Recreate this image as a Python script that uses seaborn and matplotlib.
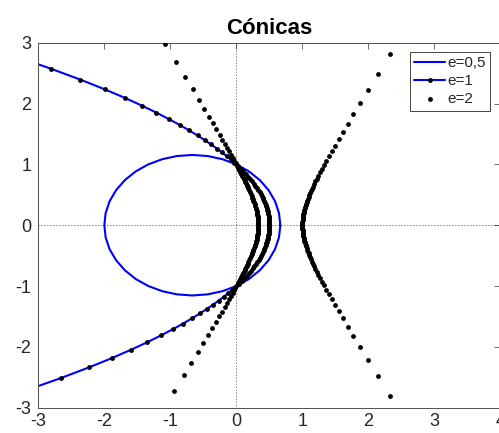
import matplotlib
matplotlib.use("Agg")
import matplotlib.pyplot as plt
import seaborn as sns

# e = 0.5 : ellipse (closed curve, drawn as a plain line)
ellipse_x = [0.667, 0.646, 0.586, 0.488, 0.355, 0.190, 0.000, -0.211, -0.435, -0.667,
             -0.898, -1.123, -1.333, -1.524, -1.688, -1.821, -1.920, -1.980, -2.000,
             -1.980, -1.920, -1.821, -1.688, -1.524, -1.333, -1.123, -0.898, -0.667,
             -0.435, -0.211, 0.000, 0.190, 0.355, 0.488, 0.586, 0.646, 0.667]
ellipse_y = [0.000, 0.201, 0.395, 0.577, 0.742, 0.885, 1.000, 1.085, 1.137, 1.155,
             1.137, 1.085, 1.000, 0.885, 0.742, 0.577, 0.395, 0.201, 0.000,
             -0.201, -0.395, -0.577, -0.742, -0.885, -1.000, -1.085, -1.137, -1.155,
             -1.137, -1.085, -1.000, -0.885, -0.742, -0.577, -0.395, -0.201, 0.000]

# e = 1 : parabola, line with a dot on every sample
parabola_x = [-3.156, -2.649, -2.233, -1.887, -1.597, -1.352, -1.142, -0.962, -0.805, -0.669,
              -0.549, -0.444, -0.350, -0.267, -0.193, -0.126, -0.066, -0.013, 0.036, 0.080,
              0.121, 0.157, 0.191, 0.221, 0.249, 0.274, 0.298, 0.319, 0.339, 0.357,
              0.373, 0.388, 0.402, 0.415, 0.426, 0.437, 0.446, 0.455, 0.463, 0.470,
              0.476, 0.481, 0.486, 0.490, 0.493, 0.496, 0.498, 0.499, 0.500,
              0.500, 0.500, 0.499, 0.497, 0.495, 0.492, 0.489, 0.484, 0.479, 0.474,
              0.467, 0.460, 0.452, 0.443, 0.433, 0.423, 0.411, 0.398, 0.383, 0.368,
              0.351, 0.332, 0.312, 0.290, 0.266, 0.240, 0.211, 0.180, 0.145, 0.108,
              0.066, 0.020, -0.030, -0.086, -0.148, -0.217, -0.294, -0.381, -0.478, -0.588,
              -0.713, -0.856, -1.020, -1.211, -1.430, -1.690, -1.997, -2.364, -2.808, -3.352]
parabola_y = [-2.704, -2.509, -2.338, -2.185, -2.048, -1.925, -1.812, -1.710, -1.616, -1.529,
              -1.449, -1.374, -1.304, -1.239, -1.177, -1.119, -1.064, -1.012, -0.963, -0.916,
              -0.871, -0.828, -0.787, -0.747, -0.709, -0.672, -0.636, -0.602, -0.568, -0.535,
              -0.504, -0.473, -0.442, -0.413, -0.384, -0.355, -0.328, -0.300, -0.273, -0.246,
              -0.220, -0.194, -0.168, -0.143, -0.117, -0.092, -0.067, -0.042, -0.017,
              0.000, 0.025, 0.050, 0.075, 0.100, 0.126, 0.151, 0.177, 0.203, 0.229,
              0.255, 0.282, 0.309, 0.337, 0.365, 0.394, 0.423, 0.453, 0.483, 0.514,
              0.546, 0.579, 0.613, 0.648, 0.684, 0.721, 0.760, 0.800, 0.842, 0.886,
              0.932, 0.979, 1.030, 1.083, 1.138, 1.197, 1.260, 1.327, 1.398, 1.475,
              1.557, 1.647, 1.743, 1.850, 1.965, 2.093, 2.235, 2.393, 2.572, 2.776]

# e = 2 : hyperbola, dots only -- branch through (0, +-1)
hyper_left_x = [0.333, 0.333, 0.333, 0.332, 0.330, 0.328, 0.326, 0.323, 0.320, 0.316,
                0.311, 0.306, 0.300, 0.294, 0.286, 0.277, 0.267,
                0.260, 0.252, 0.243, 0.233, 0.222, 0.210, 0.197, 0.182,
                0.174, 0.166, 0.157, 0.148, 0.137, 0.127, 0.116, 0.103, 0.091, 0.077,
                0.062, 0.046, 0.029, 0.011, -0.009, -0.031, -0.055, -0.080, -0.108, -0.139,
                -0.174, -0.212, -0.254, -0.301, -0.355, -0.416, -0.487, -0.568, -0.664, -0.777,
                -0.915, -1.084,
                0.333, 0.333, 0.332, 0.330, 0.328, 0.326, 0.323, 0.320, 0.316,
                0.311, 0.306, 0.300, 0.294, 0.286, 0.277, 0.267,
                0.260, 0.252, 0.243, 0.233, 0.222, 0.210, 0.197, 0.182,
                0.173, 0.164, 0.155, 0.146, 0.136, 0.125, 0.114, 0.101, 0.088, 0.074,
                0.060, 0.043, 0.026, 0.008, -0.013, -0.035, -0.058, -0.085, -0.113, -0.145,
                -0.179, -0.218, -0.261, -0.310, -0.364, -0.427, -0.499, -0.582, -0.681, -0.798,
                -0.939]
hyper_left_y = [0.000, 0.020, 0.040, 0.060, 0.081, 0.102, 0.123, 0.144, 0.166, 0.189,
                0.213, 0.238, 0.263, 0.290, 0.319, 0.349, 0.382,
                0.404, 0.429, 0.454, 0.481, 0.510, 0.540, 0.573, 0.609,
                0.628, 0.647, 0.668, 0.689, 0.712, 0.735, 0.760, 0.786, 0.814, 0.843,
                0.874, 0.907, 0.942, 0.979, 1.019, 1.062, 1.108, 1.158, 1.212, 1.271,
                1.336, 1.407, 1.486, 1.574, 1.673, 1.785, 1.912, 2.059, 2.231, 2.434,
                2.678, 2.976,
                -0.020, -0.040, -0.060, -0.081, -0.102, -0.123, -0.144, -0.166, -0.189,
                -0.213, -0.238, -0.263, -0.290, -0.319, -0.349, -0.382,
                -0.404, -0.429, -0.454, -0.481, -0.510, -0.540, -0.573, -0.609,
                -0.631, -0.651, -0.671, -0.693, -0.716, -0.739, -0.764, -0.791, -0.818, -0.848,
                -0.879, -0.912, -0.947, -0.985, -1.025, -1.069, -1.115, -1.166, -1.221, -1.281,
                -1.347, -1.419, -1.500, -1.589, -1.690, -1.804, -1.934, -2.085, -2.261, -2.470,
                -2.721]

# e = 2 : other branch, vertex at (1, 0)
hyper_right_x = [1.000, 1.001, 1.002, 1.003, 1.005, 1.007, 1.010, 1.013, 1.017, 1.021,
                 1.025, 1.030, 1.036, 1.042, 1.049, 1.057, 1.065, 1.074, 1.083, 1.094,
                 1.105, 1.118, 1.131, 1.146, 1.162, 1.180, 1.199, 1.220, 1.243, 1.268,
                 1.296, 1.328, 1.362, 1.401, 1.444, 1.493, 1.548, 1.612, 1.685, 1.771,
                 1.872, 1.993, 2.140, 2.323,
                 1.000, 1.000, 1.001, 1.002, 1.003, 1.005, 1.007, 1.010, 1.013, 1.017, 1.021,
                 1.025, 1.030, 1.036, 1.042, 1.049, 1.057, 1.065, 1.074, 1.083, 1.094,
                 1.105, 1.118, 1.131, 1.146, 1.162, 1.180, 1.199, 1.220, 1.243, 1.268,
                 1.296, 1.328, 1.362, 1.401, 1.444, 1.493, 1.548, 1.612, 1.685, 1.771,
                 1.872, 1.993, 2.140, 2.323]
hyper_right_y = [0.020, 0.040, 0.060, 0.080, 0.101, 0.121, 0.142, 0.163, 0.185, 0.207,
                 0.229, 0.252, 0.276, 0.300, 0.325, 0.350, 0.377, 0.404, 0.433, 0.462,
                 0.494, 0.526, 0.560, 0.597, 0.635, 0.675, 0.719, 0.765, 0.814, 0.868,
                 0.926, 0.988, 1.057, 1.133, 1.216, 1.309, 1.414, 1.532, 1.667, 1.823,
                 2.006, 2.223, 2.486, 2.810,
                 0.000, -0.020, -0.040, -0.060, -0.080, -0.101, -0.121, -0.142, -0.163, -0.185, -0.207,
                 -0.229, -0.252, -0.276, -0.300, -0.325, -0.350, -0.377, -0.404, -0.433, -0.462,
                 -0.494, -0.526, -0.560, -0.597, -0.635, -0.675, -0.719, -0.765, -0.814, -0.868,
                 -0.926, -0.988, -1.057, -1.133, -1.216, -1.309, -1.414, -1.532, -1.667, -1.823,
                 -2.006, -2.223, -2.486, -2.810]

x_ticks = [-3, -2, -1, 0, 1, 2, 3, 4]
y_ticks = [-3, -2, -1, 0, 1, 2, 3]

sns.set_theme(style="white")
plt.rcParams["font.family"] = ["Liberation Sans", "DejaVu Sans"]
plt.rcParams["axes.unicode_minus"] = False

fig = plt.figure(figsize=(4.99, 4.33), dpi=100)
ax = fig.add_axes([0.0768, 0.0584, 0.9259, 0.8430])

# dotted axis lines through the origin
ax.axhline(0, color="black", lw=0.6, ls=(0, (1, 2.6)), zorder=1)
ax.axvline(0, color="black", lw=0.6, ls=(0, (1, 2.6)), zorder=1)

sns.lineplot(x=ellipse_x, y=ellipse_y, sort=False, estimator=None, color="blue",
             lw=1.5, label="e=0,5", ax=ax)
sns.lineplot(x=parabola_x, y=parabola_y, sort=False, estimator=None, color="blue",
             lw=1.5, marker="o", markersize=3.5, markerfacecolor="black",
             markeredgecolor="black", markeredgewidth=0, label="e=1", ax=ax)
sns.scatterplot(x=hyper_left_x + hyper_right_x, y=hyper_left_y + hyper_right_y,
                color="black", s=12, linewidth=0, label="e=2", ax=ax, zorder=3)

ax.set_xlim(-3, 4)
ax.set_ylim(-3, 3)
ax.set_xticks(x_ticks)
ax.set_yticks(y_ticks)
ax.tick_params(direction="in", length=4, width=0.6, color="#555555",
               top=True, right=True, labelsize=13, labelcolor="#262626")
ax.tick_params(axis="x", pad=4)
ax.tick_params(axis="y", pad=5)
for sp in ax.spines.values():
    sp.set_color("#555555")
    sp.set_linewidth(0.75)

ax.set_title("Cónicas", fontsize=16, fontweight="bold", pad=6, color="black")

leg = ax.legend(loc="upper right", bbox_to_anchor=(0.978, 0.975), borderaxespad=0,
                fontsize=11, handlelength=2.0, handletextpad=0.15, labelspacing=0.25,
                borderpad=0.3, fancybox=False, framealpha=1, edgecolor="#262626")
leg.get_frame().set_linewidth(0.6)

fig.savefig("out.png", dpi=100)
